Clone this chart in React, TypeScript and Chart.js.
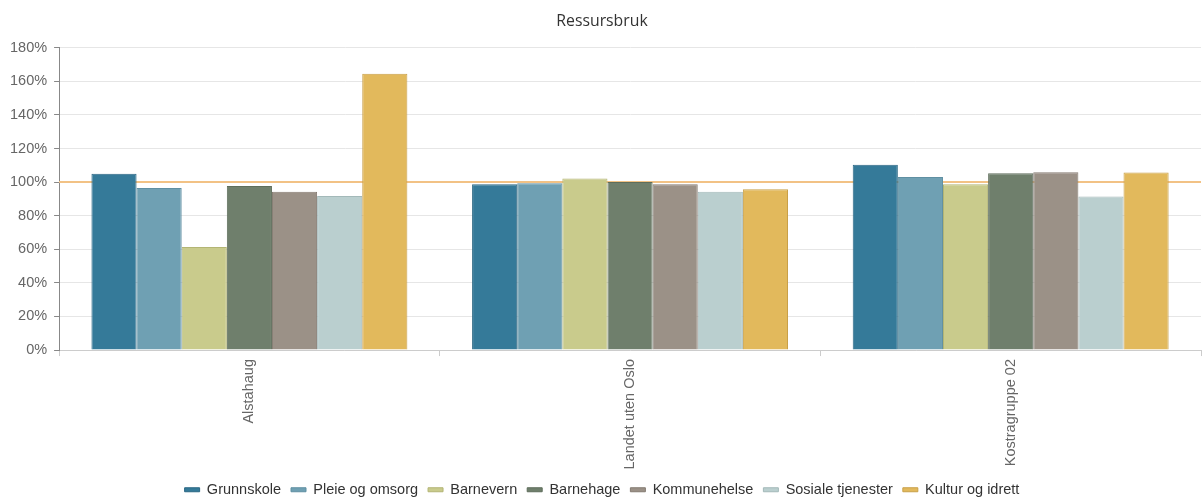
import React, { useEffect, useRef } from "react";
import { Chart, registerables } from "chart.js";

Chart.register(...registerables);

const categories = ["Alstahaug", "Landet uten Oslo", "Kostragruppe 02"];
const seriesNames = [
  "Grunnskole",
  "Pleie og omsorg",
  "Barnevern",
  "Barnehage",
  "Kommunehelse",
  "Sosiale tjenester",
  "Kultur og idrett",
];
const grunnskole = [105, 98.7, 110.3];
const pleieOgOmsorg = [96.5, 99.3, 103.1];
const barnevern = [61.4, 102.2, 98.7];
const barnehage = [97.7, 100.1, 105.3];
const kommunehelse = [94.2, 98.8, 105.9];
const sosialeTjenester = [91.8, 94.2, 91.4];
const kulturOgIdrett = [164.5, 95.8, 105.7];
const seriesValues = [
  grunnskole,
  pleieOgOmsorg,
  barnevern,
  barnehage,
  kommunehelse,
  sosialeTjenester,
  kulturOgIdrett,
];
const fillColors = ["#357a99", "#6fa0b3", "#c9cb8c", "#6f7f6c", "#9b9187", "#bacfcf", "#e2b95c"];
const borderColors = ["#2b6784", "#5f8fa2", "#b3b574", "#5e6d5b", "#857b72", "#a3b9b9", "#c9a048"];
const referenceValue = 100;
const yTicksMax = 180;

const refLinePlugin = {
  id: "refLine",
  beforeDatasetsDraw(chart: any) {
    const { ctx, chartArea, scales } = chart;
    const y = scales.y.getPixelForValue(referenceValue);
    ctx.save();
    ctx.strokeStyle = "#f2c285";
    ctx.lineWidth = 2;
    ctx.beginPath();
    ctx.moveTo(chartArea.left, y);
    ctx.lineTo(chartArea.right, y);
    ctx.stroke();
    ctx.restore();
  },
};

const FONT = "'Liberation Sans', Arial";

export default function App() {
  const ref = useRef<HTMLCanvasElement>(null);
  useEffect(() => {
    document.body.style.margin = "0";
    const chart = new Chart(ref.current!, {
      type: "bar",
      data: {
        labels: categories,
        datasets: seriesNames.map((name, i) => ({
          label: name,
          data: seriesValues[i],
          backgroundColor: fillColors[i],
          borderColor: borderColors[i],
          borderWidth: 1,
          categoryPercentage: 0.83,
          barPercentage: 1,
        })),
      },
      options: {
        animation: false,
        responsive: false,
        maintainAspectRatio: false,
        layout: { padding: { left: 3, right: 2, top: 0, bottom: 0 } },
        plugins: {
          title: {
            display: true,
            text: "Ressursbruk",
            color: "#333",
            font: { family: "'Open Sans'", size: 15.8, weight: "normal" },
            padding: { top: 12, bottom: 16.8 },
          },
          legend: {
            position: "bottom",
            labels: {
              boxWidth: 15,
              boxHeight: 4,
              color: "#333",
              font: { family: FONT, size: 14.5 },
              padding: 10,
            },
          },
          tooltip: { enabled: false },
        },
        scales: {
          x: {
            grid: {
              drawOnChartArea: false,
              drawTicks: true,
              tickLength: 6,
              tickColor: "#ccc",
              offset: true,
            },
            border: { color: "#ccc" },
            ticks: {
              maxRotation: 90,
              minRotation: 90,
              color: "#666",
              padding: 3,
              font: { family: FONT, size: 14.5 },
            },
          },
          y: {
            min: 0,
            max: yTicksMax,
            grid: { color: "#e6e6e6", tickColor: "#888", tickLength: 5 },
            border: { color: "#888" },
            ticks: {
              stepSize: 20,
              color: "#666",
              padding: 7,
              font: { family: FONT, size: 14.5 },
              callback: (v: any) => v + "%",
            },
          },
        },
      },
      plugins: [refLinePlugin],
    });
    return () => chart.destroy();
  }, []);
  return (
    <div style={{ width: 1203, height: 498, overflow: "hidden" }}>
      <canvas ref={ref} width={1203} height={507} style={{ display: "block" }} />
    </div>
  );
}
